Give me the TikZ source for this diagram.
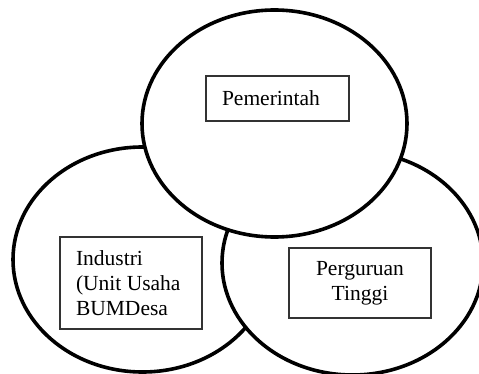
\documentclass[tikz,border=0pt]{standalone}
\usepackage{fontspec}
\setmainfont{Liberation Serif}
\usetikzlibrary{shapes.geometric}
\begin{document}
\begin{tikzpicture}[x=1pt,y=-1pt,
  oval/.style={ellipse,draw=black,fill=white,line width=3.6pt,inner sep=0pt},
  lbl/.style={draw=black!80,line width=1.3pt,font=\fontsize{21.5}{25}\selectfont,inner ysep=0pt}]
\useasboundingbox (0,0) rectangle (479,374);
\node[oval,minimum width=259pt,minimum height=225pt] (ind) at (142.5,259.5) {};
\node[oval,minimum width=261pt,minimum height=224pt] (pt) at (352.5,263) {};
\node[oval,minimum width=265pt,minimum height=227pt] (pem) at (274.5,123.5) {};
\node[lbl,minimum height=45pt,inner xsep=16pt,text width=111pt,align=flush left] (tpem) at (277.5,98.5) {Pemerintah};
\node[lbl,minimum height=92pt,inner xsep=16pt,text width=110pt,align=flush left] (tind) at (131,283) {Industri\\(Unit Usaha\\BUMDesa};
\node[lbl,minimum height=70pt,inner xsep=8pt,text width=126pt,align=flush center] (tpt) at (360,283) {Perguruan\\Tinggi};
\end{tikzpicture}
\end{document}
